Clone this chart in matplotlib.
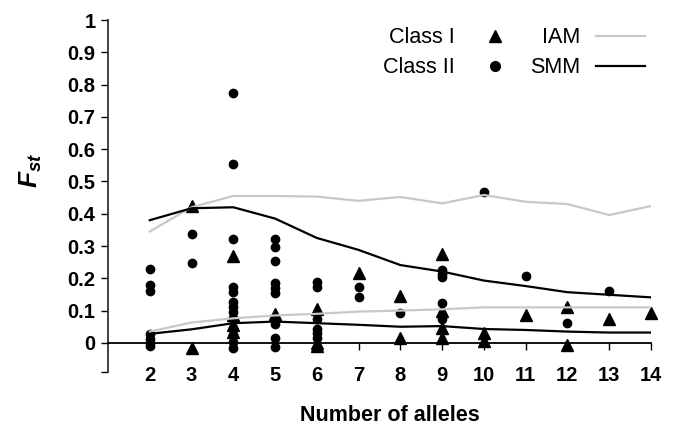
import matplotlib.pyplot as plt
from matplotlib.lines import Line2D

plt.rcParams['font.family'] = 'Liberation Sans'
plt.rcParams['mathtext.fontset'] = 'custom'
plt.rcParams['mathtext.bfit'] = 'Liberation Sans:italic:bold'

alleles = [2, 3, 4, 5, 6, 7, 8, 9, 10, 11, 12, 13, 14]

# model curves (upper and lower bounds)
iam_upper = [0.345, 0.42, 0.455, 0.455, 0.453, 0.44, 0.452, 0.432, 0.458, 0.437, 0.43, 0.396, 0.424]
iam_lower = [0.035, 0.063, 0.076, 0.085, 0.09, 0.097, 0.1, 0.104, 0.11, 0.11, 0.11, 0.11, 0.11]
smm_upper = [0.38, 0.417, 0.42, 0.385, 0.325, 0.288, 0.241, 0.221, 0.193, 0.176, 0.157, 0.149, 0.141]
smm_lower = [0.028, 0.042, 0.061, 0.066, 0.061, 0.056, 0.05, 0.052, 0.043, 0.04, 0.035, 0.032, 0.032]

# observed loci
class1_x = [3, 3, 4, 4, 4, 4, 5, 6, 6, 6, 7, 8, 8, 9, 9, 9, 9, 10, 10, 11, 12, 12, 13, 14]
class1_y = [0.425, -0.015, 0.27, 0.085, 0.055, 0.035, 0.09, 0.105, 0.0, -0.01, 0.215, 0.145, 0.015,
            0.275, 0.1, 0.045, 0.015, 0.03, 0.005, 0.087, 0.112, -0.006, 0.073, 0.094]

class2_x = [2, 2, 2, 2, 2, 2, 2,
            3, 3,
            4, 4, 4, 4, 4, 4, 4, 4, 4, 4, 4, 4, 4,
            5, 5, 5, 5, 5, 5, 5, 5, 5,
            6, 6, 6, 6, 6, 6,
            7, 7, 8, 9, 9, 9, 9, 9, 10, 11, 12, 13]
class2_y = [0.228, 0.18, 0.162, 0.028, 0.012, 0.0, -0.01,
            0.338, 0.247,
            0.775, 0.553, 0.321, 0.174, 0.159, 0.128, 0.112, 0.097, 0.075, 0.045, 0.025, 0.004, -0.017,
            0.323, 0.297, 0.255, 0.186, 0.17, 0.155, 0.06, 0.016, -0.013,
            0.188, 0.174, 0.074, 0.042, 0.03, 0.016,
            0.172, 0.143, 0.094, 0.226, 0.213, 0.205, 0.124, 0.074, 0.468, 0.207, 0.061, 0.162]

yticks = [0, 0.1, 0.2, 0.3, 0.4, 0.5, 0.6, 0.7, 0.8, 0.9, 1]
ytick_labels = ['0', '0.1', '0.2', '0.3', '0.4', '0.5', '0.6', '0.7', '0.8', '0.9', '1']

fig = plt.figure(figsize=(6.75, 4.33), dpi=100)
ax = fig.add_axes([0.16, 0.141, 0.8044, 0.8128])

ax.plot(class1_x, class1_y, '^', color='black', markersize=8.5, clip_on=False, zorder=2)
ax.plot(class2_x, class2_y, 'o', color='black', markersize=6, clip_on=False, zorder=2)

gray = '#c8c8c8'
ax.plot(alleles, iam_upper, color=gray, linewidth=1.6, zorder=3)
ax.plot(alleles, iam_lower, color=gray, linewidth=1.6, zorder=3)
ax.plot(alleles, smm_upper, color='black', linewidth=1.6, zorder=3)
ax.plot(alleles, smm_lower, color='black', linewidth=1.6, zorder=3)

ax.set_xlim(1, 14)
ax.set_ylim(-0.09, 1)

ax.spines['top'].set_visible(False)
ax.spines['right'].set_visible(False)
ax.spines['bottom'].set_position(('data', 0))
ax.spines['bottom'].set_linewidth(1.3)
ax.spines['left'].set_linewidth(1.3)
ax.spines['left'].set_color('#333333')

ax.set_xticks(alleles)
ax.set_xticklabels([str(a) for a in alleles], fontsize=14.5, fontweight='bold')
ax.tick_params(axis='x', direction='out', length=5, width=1, pad=12)
ax.set_yticks(yticks + [-0.09])
ax.set_yticklabels(ytick_labels + [''], fontsize=14.5, fontweight='bold')
ax.tick_params(axis='y', direction='out', length=5, width=1, pad=4)

ax.set_xlabel('Number of alleles', fontsize=15.5, fontweight='bold')
ax.xaxis.set_label_coords(0.519, -0.094)
ax.set_ylabel(r'$\mathbfit{F}_{\mathbfit{st}}$', fontsize=19)
ax.yaxis.set_label_coords(-0.118, 0.574)

handles = [Line2D([], [], marker='^', color='black', linestyle='none', markersize=9),
           Line2D([], [], marker='o', color='black', linestyle='none', markersize=7),
           Line2D([], [], color=gray, linewidth=1.6),
           Line2D([], [], color='black', linewidth=1.6)]
labels = ['Class I', 'Class II', 'IAM', 'SMM']
ax.legend(handles, labels, ncol=2, markerfirst=False, frameon=False, fontsize=15.5,
          loc='upper right', bbox_to_anchor=(1.025, 1.035), handlelength=2.3,
          handletextpad=0.7, columnspacing=0.5, labelspacing=0.42)

fig.savefig('out.png', dpi=100)
